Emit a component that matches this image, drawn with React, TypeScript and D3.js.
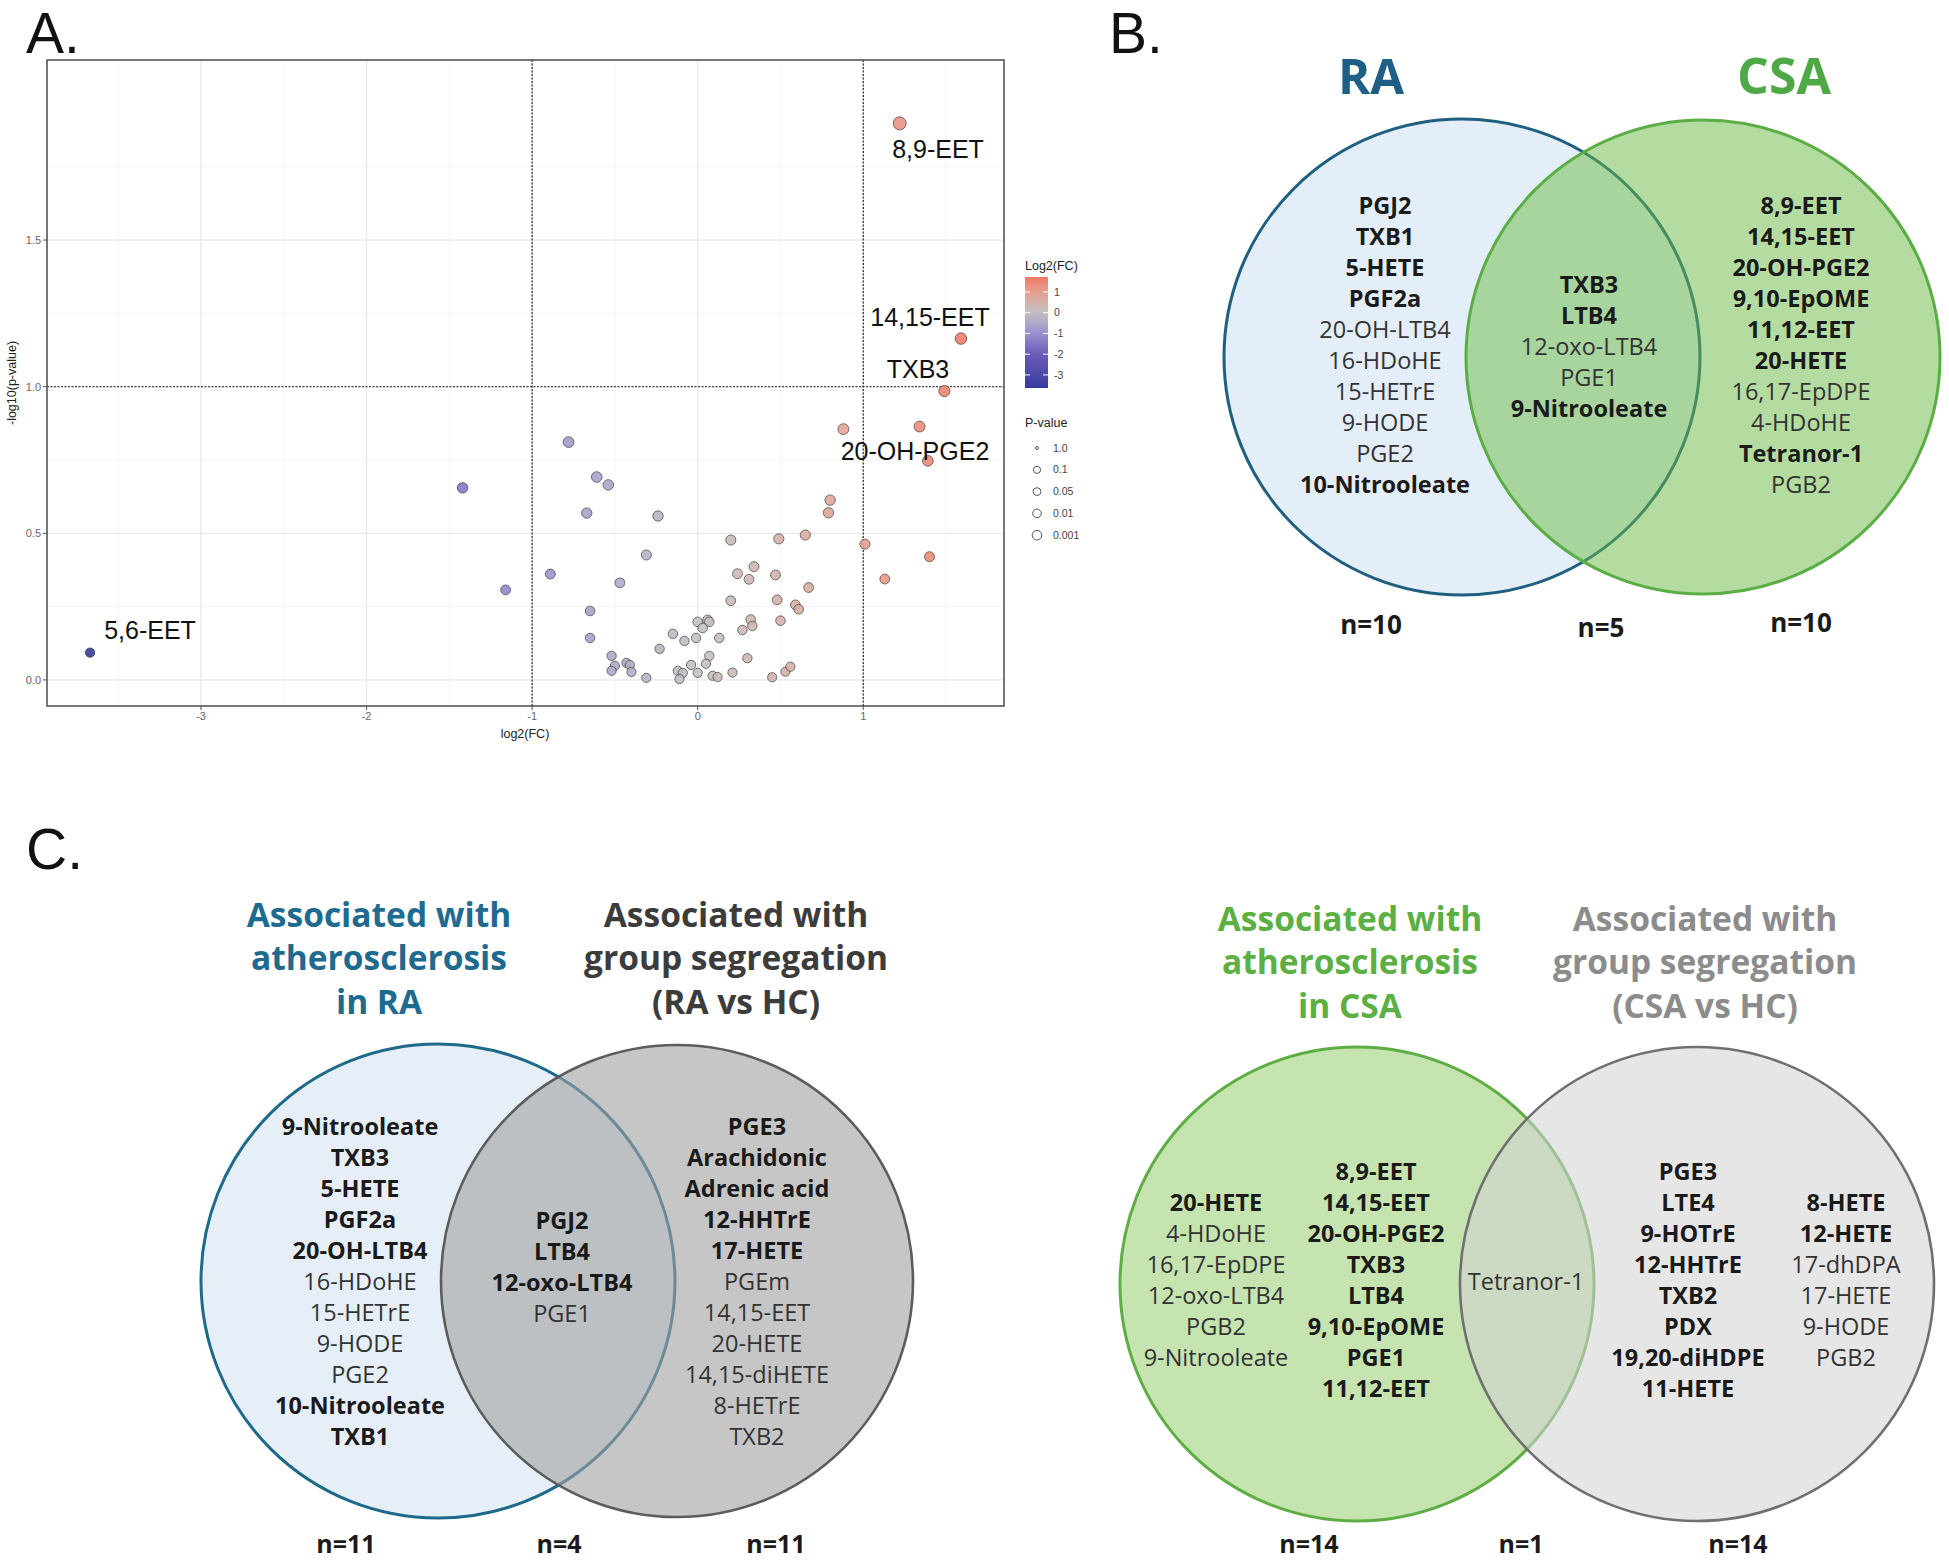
import * as d3 from "d3";

// ---------- Panel A data (volcano) ----------
const fcValues = [
  -3.67, -1.42, -1.16, -0.78, -0.61, -0.54, -0.67, -0.24, -0.31, -0.89, -0.47, -0.65, -0.65,
  -0.15, -0.08, -0.01, 0.0, 0.06, 0.07, 0.03, 0.13, -0.23, -0.52, -0.5, -0.52, -0.43, -0.41,
  -0.4, -0.31, -0.04, 0.07, 0.05, -0.12, -0.09, -0.11, 0.0, 0.09, 0.12, 0.88, 1.34, 1.39,
  0.8, 0.79, 0.65, 0.49, 0.2, 1.01, 1.4, 1.13, 0.34, 0.24, 0.31, 0.47, 0.67, 0.2, 0.48, 0.59,
  0.61, 0.5, 0.32, 0.33, 0.27, 0.3, 0.21, 0.45, 0.53, 0.56, 1.22, 1.59, 1.49,
];
const logPValues = [
  0.093, 0.655, 0.307, 0.811, 0.692, 0.665, 0.569, 0.559, 0.426, 0.361, 0.331, 0.235, 0.143,
  0.157, 0.133, 0.143, 0.198, 0.205, 0.198, 0.177, 0.143, 0.106, 0.082, 0.048, 0.031, 0.058,
  0.051, 0.027, 0.007, 0.051, 0.082, 0.055, 0.031, 0.024, 0.003, 0.024, 0.014, 0.01, 0.855,
  0.864, 0.747, 0.613, 0.57, 0.494, 0.481, 0.477, 0.463, 0.42, 0.344, 0.386, 0.362, 0.343,
  0.358, 0.315, 0.27, 0.273, 0.256, 0.241, 0.202, 0.206, 0.184, 0.17, 0.074, 0.025, 0.009,
  0.028, 0.045, 1.898, 1.164, 0.985,
];
const labelled = ["5,6-EET", "20-OH-PGE2", "8,9-EET", "14,15-EET", "TXB3"];
const xTicks = [-3, -2, -1, 0, 1];
const yTicks = [0, 0.5, 1, 1.5];
const fcLegendTicks = [1, 0, -1, -2, -3];
const pLegend = ["1.0", "0.1", "0.05", "0.01", "0.001"];

// ---------- Panel B ----------
type Item = { t: string; b: boolean };
const bRA: Item[] = [
  { t: "PGJ2", b: true }, { t: "TXB1", b: true }, { t: "5-HETE", b: true }, { t: "PGF2a", b: true },
  { t: "20-OH-LTB4", b: false }, { t: "16-HDoHE", b: false }, { t: "15-HETrE", b: false },
  { t: "9-HODE", b: false }, { t: "PGE2", b: false }, { t: "10-Nitrooleate", b: true },
];
const bBoth: Item[] = [
  { t: "TXB3", b: true }, { t: "LTB4", b: true }, { t: "12-oxo-LTB4", b: false },
  { t: "PGE1", b: false }, { t: "9-Nitrooleate", b: true },
];
const bCSA: Item[] = [
  { t: "8,9-EET", b: true }, { t: "14,15-EET", b: true }, { t: "20-OH-PGE2", b: true },
  { t: "9,10-EpOME", b: true }, { t: "11,12-EET", b: true }, { t: "20-HETE", b: true },
  { t: "16,17-EpDPE", b: false }, { t: "4-HDoHE", b: false }, { t: "Tetranor-1", b: true },
  { t: "PGB2", b: false },
];
const bCounts = ["n=10", "n=5", "n=10"];

// ---------- Panel C left ----------
const cRA: Item[] = [
  { t: "9-Nitrooleate", b: true }, { t: "TXB3", b: true }, { t: "5-HETE", b: true },
  { t: "PGF2a", b: true }, { t: "20-OH-LTB4", b: true }, { t: "16-HDoHE", b: false },
  { t: "15-HETrE", b: false }, { t: "9-HODE", b: false }, { t: "PGE2", b: false },
  { t: "10-Nitrooleate", b: true }, { t: "TXB1", b: true },
];
const cRABoth: Item[] = [
  { t: "PGJ2", b: true }, { t: "LTB4", b: true }, { t: "12-oxo-LTB4", b: true }, { t: "PGE1", b: false },
];
const cRAHC: Item[] = [
  { t: "PGE3", b: true }, { t: "Arachidonic", b: true }, { t: "Adrenic acid", b: true },
  { t: "12-HHTrE", b: true }, { t: "17-HETE", b: true }, { t: "PGEm", b: false },
  { t: "14,15-EET", b: false }, { t: "20-HETE", b: false }, { t: "14,15-diHETE", b: false },
  { t: "8-HETrE", b: false }, { t: "TXB2", b: false },
];
const cRACounts = ["n=11", "n=4", "n=11"];

// ---------- Panel C right ----------
const cCSA1: Item[] = [
  { t: "20-HETE", b: true }, { t: "4-HDoHE", b: false }, { t: "16,17-EpDPE", b: false },
  { t: "12-oxo-LTB4", b: false }, { t: "PGB2", b: false }, { t: "9-Nitrooleate", b: false },
];
const cCSA2: Item[] = [
  { t: "8,9-EET", b: true }, { t: "14,15-EET", b: true }, { t: "20-OH-PGE2", b: true },
  { t: "TXB3", b: true }, { t: "LTB4", b: true }, { t: "9,10-EpOME", b: true },
  { t: "PGE1", b: true }, { t: "11,12-EET", b: true },
];
const cCSABoth: Item[] = [{ t: "Tetranor-1", b: false }];
const cCSAHC1: Item[] = [
  { t: "PGE3", b: true }, { t: "LTE4", b: true }, { t: "9-HOTrE", b: true }, { t: "12-HHTrE", b: true },
  { t: "TXB2", b: true }, { t: "PDX", b: true }, { t: "19,20-diHDPE", b: true }, { t: "11-HETE", b: true },
];
const cCSAHC2: Item[] = [
  { t: "8-HETE", b: true }, { t: "12-HETE", b: true }, { t: "17-dhDPA", b: false },
  { t: "17-HETE", b: false }, { t: "9-HODE", b: false }, { t: "PGB2", b: false },
];
const cCSACounts = ["n=14", "n=1", "n=14"];

const VF = "'Open Sans', sans-serif";
const AF = "'Liberation Sans', Arial, sans-serif";
const LH = 31;
const BODY = 23.5;

function Column({ items, x, y, size = BODY }: { items: Item[]; x: number; y: number; size?: number }) {
  return (
    <g fontFamily={VF} fontSize={size} textAnchor="middle">
      {items.map((d, i) => (
        <text key={i} x={x} y={y + i * LH} dy="0.35em" fontWeight={d.b ? 700 : 400}
          fill={d.b ? "#1a1a1a" : "#333"}>{d.t}</text>
      ))}
    </g>
  );
}

function Volcano() {
  const x = d3.scaleLinear().domain([-3.93, 1.85]).range([47, 1004]);
  const y = d3.scaleLinear().domain([-0.089, 2.114]).range([706, 60]);
  const color = d3.scaleLinear<string>()
    .domain([-3.7, -2, -1, 0, 1, 1.75])
    .range(["#35399e", "#6a5cb8", "#9b8fd0", "#c2c2c2", "#e6a090", "#ef7862"]);
  const r = d3.scaleLinear().domain([0, 2]).range([4.6, 6.6]);
  const minorX = d3.range(-3.5, 2, 1);
  const minorY = d3.range(0.25, 2.1, 0.5);
  const cb = d3.scaleLinear().domain([1.72, -3.63]).range([277, 388]);
  const labelPos: Record<string, [number, number]> = {
    "5,6-EET": [150, 639], "20-OH-PGE2": [915, 460], "8,9-EET": [938, 158],
    "14,15-EET": [930, 326], "TXB3": [918, 378],
  };
  return (
    <g>
      <rect x={47} y={60} width={957} height={646} fill="#fff" />
      {minorX.map((v) => <line key={"mx" + v} x1={x(v)} x2={x(v)} y1={60} y2={706} stroke="#f2f2f2" strokeWidth={0.8} />)}
      {minorY.map((v) => <line key={"my" + v} y1={y(v)} y2={y(v)} x1={47} x2={1004} stroke="#f2f2f2" strokeWidth={0.8} />)}
      {xTicks.map((v) => <line key={"gx" + v} x1={x(v)} x2={x(v)} y1={60} y2={706} stroke="#e8e8e8" strokeWidth={1.3} />)}
      {yTicks.map((v) => <line key={"gy" + v} y1={y(v)} y2={y(v)} x1={47} x2={1004} stroke="#e8e8e8" strokeWidth={1.3} />)}
      {[-1, 1].map((v) => <line key={"dv" + v} x1={x(v)} x2={x(v)} y1={60} y2={706} stroke="#444" strokeWidth={1.4} strokeDasharray="2,1.5" />)}
      <line x1={47} x2={1004} y1={y(1)} y2={y(1)} stroke="#444" strokeWidth={1.4} strokeDasharray="2,1.5" />
      {fcValues.map((fc, i) => (
        <circle key={i} cx={x(fc)} cy={y(logPValues[i])} r={r(logPValues[i])}
          fill={color(fc)} fillOpacity={0.9} stroke="#3a3a3a" strokeOpacity={0.75} strokeWidth={0.9} />
      ))}
      {labelled.map((name) => (
        <text key={name} x={labelPos[name][0]} y={labelPos[name][1]} textAnchor="middle"
          fontFamily={AF} fontSize={25} fill="#111">{name}</text>
      ))}
      <rect x={47} y={60} width={957} height={646} fill="none" stroke="#555" strokeWidth={1.6} />
      {/* axes */}
      <g fontFamily={AF} fontSize={11} fill="#666">
        {xTicks.map((v) => (
          <g key={"xt" + v}>
            <line x1={x(v)} x2={x(v)} y1={706} y2={710} stroke="#555" />
            <text x={x(v)} y={720} textAnchor="middle">{v}</text>
          </g>
        ))}
        {yTicks.map((v) => (
          <g key={"yt" + v}>
            <line x1={43} x2={47} y1={y(v)} y2={y(v)} stroke="#555" />
            <text x={41} y={y(v)} dy="0.35em" textAnchor="end">{v.toFixed(1)}</text>
          </g>
        ))}
      </g>
      <text x={525} y={738} textAnchor="middle" fontFamily={AF} fontSize={12.5} fill="#222">log2(FC)</text>
      <text transform="translate(16,383) rotate(-90)" textAnchor="middle" fontFamily={AF} fontSize={12.5} fill="#222">-log10(p-value)</text>
      {/* legend */}
      <defs>
        <linearGradient id="fcgrad" x1="0" y1="0" x2="0" y2="1">
          {d3.range(0, 11).map((k) => {
            const v = 1.72 - (k / 10) * (1.72 + 3.63);
            return <stop key={k} offset={`${k * 10}%`} stopColor={color(v)} />;
          })}
        </linearGradient>
      </defs>
      <text x={1025} y={270} fontFamily={AF} fontSize={12.5} fill="#222">Log2(FC)</text>
      <rect x={1025} y={277} width={23} height={111} fill="url(#fcgrad)" />
      {fcLegendTicks.map((v) => (
        <g key={"cb" + v}>
          <line x1={1025} x2={1030} y1={cb(v)} y2={cb(v)} stroke="#fff" strokeWidth={1} />
          <line x1={1043} x2={1048} y1={cb(v)} y2={cb(v)} stroke="#fff" strokeWidth={1} />
          <text x={1054} y={cb(v)} dy="0.35em" fontFamily={AF} fontSize={10.5} fill="#444">{v}</text>
        </g>
      ))}
      <text x={1025} y={427} fontFamily={AF} fontSize={12.5} fill="#222">P-value</text>
      {pLegend.map((p, i) => {
        const rr = [1.5, 3.6, 3.9, 4.3, 4.8][i];
        const cy = 448 + i * 21.8;
        return (
          <g key={p}>
            <circle cx={1037} cy={cy} r={rr} fill="#fff" stroke="#555" strokeWidth={1} />
            <text x={1053} y={cy} dy="0.35em" fontFamily={AF} fontSize={10.5} fill="#444">{p}</text>
          </g>
        );
      })}
    </g>
  );
}

export default function App() {
  return (
    <svg width={1949} height={1566} style={{ position: "absolute", left: 0, top: 0, background: "#fff" }}>
      <rect width={1949} height={1566} fill="#fff" />
      <g fontFamily={AF} fontSize={57} fill="#111">
        <text x={26} y={53}>A.</text>
        <text x={1109} y={53}>B.</text>
        <text x={26} y={869}>C.</text>
      </g>
      <Volcano />

      {/* Panel B */}
      <text x={1371} y={94} textAnchor="middle" fontFamily={VF} fontWeight={700} fontSize={49} fill="#1f5f86">RA</text>
      <text x={1784} y={94} textAnchor="middle" fontFamily={VF} fontWeight={700} fontSize={50} fill="#4fa846">CSA</text>
      <circle cx={1462} cy={357} r={238} fill="#e4eef8" stroke="#1f5f80" strokeWidth={3} />
      <circle cx={1703} cy={357} r={237} fill="#6bb941" fillOpacity={0.5} stroke="#5aae45" strokeWidth={3} />
      <Column items={bRA} x={1385} y={206} />
      <Column items={bBoth} x={1589} y={285} />
      <Column items={bCSA} x={1801} y={206} />
      <g fontFamily={VF} fontWeight={700} fontSize={26} fill="#1a1a1a" textAnchor="middle">
        {bCounts.map((n, i) => <text key={i} x={[1371, 1601, 1801][i]} y={[625, 628, 623][i]} dy="0.35em">{n}</text>)}
      </g>

      {/* Panel C left */}
      <g fontFamily={VF} fontWeight={700} fontSize={33.5} textAnchor="middle">
        {["Associated with", "atherosclerosis", "in RA"].map((s, i) => (
          <text key={s} x={379} y={915 + i * 43.5} dy="0.35em" fill="#1f6a8f">{s}</text>
        ))}
        {["Associated with", "group segregation", "(RA vs HC)"].map((s, i) => (
          <text key={s} x={736} y={915 + i * 43.5} dy="0.35em" fill="#3c3c3c">{s}</text>
        ))}
      </g>
      <circle cx={438} cy={1281} r={237} fill="#e6eff7" stroke="#1e6a8a" strokeWidth={3} />
      <circle cx={677} cy={1281} r={236} fill="#a0a0a0" fillOpacity={0.6} stroke="#5c5c5c" strokeWidth={2.6} />
      <Column items={cRA} x={360} y={1127} />
      <Column items={cRABoth} x={562} y={1221} />
      <Column items={cRAHC} x={757} y={1127} />
      <g fontFamily={VF} fontWeight={700} fontSize={25} fill="#1a1a1a" textAnchor="middle">
        {cRACounts.map((n, i) => <text key={i} x={[346, 559, 776][i]} y={1544} dy="0.35em">{n}</text>)}
      </g>

      {/* Panel C right */}
      <g fontFamily={VF} fontWeight={700} fontSize={33.5} textAnchor="middle">
        {["Associated with", "atherosclerosis", "in CSA"].map((s, i) => (
          <text key={s} x={1350} y={919 + i * 43.5} dy="0.35em" fill="#5cb043">{s}</text>
        ))}
        {["Associated with", "group segregation", "(CSA vs HC)"].map((s, i) => (
          <text key={s} x={1705} y={919 + i * 43.5} dy="0.35em" fill="#8c8c8c">{s}</text>
        ))}
      </g>
      <circle cx={1357} cy={1284} r={237} fill="#c6e4b0" stroke="#5eae45" strokeWidth={3} />
      <circle cx={1697} cy={1284} r={237} fill="#d3d3d3" fillOpacity={0.56} stroke="#707070" strokeWidth={2.6} />
      <Column items={cCSA1} x={1216} y={1203} />
      <Column items={cCSA2} x={1376} y={1172} />
      <Column items={cCSABoth} x={1526} y={1282} />
      <Column items={cCSAHC1} x={1688} y={1172} />
      <Column items={cCSAHC2} x={1846} y={1203} />
      <g fontFamily={VF} fontWeight={700} fontSize={25} fill="#1a1a1a" textAnchor="middle">
        {cCSACounts.map((n, i) => <text key={i} x={[1309, 1521, 1738][i]} y={1544} dy="0.35em">{n}</text>)}
      </g>
    </svg>
  );
}
